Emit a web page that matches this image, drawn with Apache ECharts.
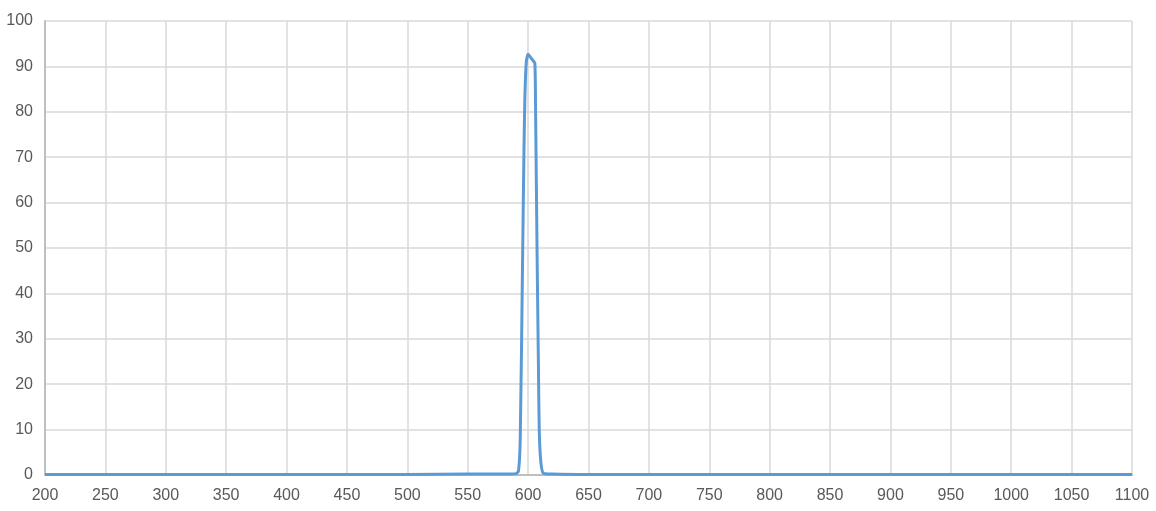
<!DOCTYPE html>
<html>
<head>
<meta charset="utf-8">
<script src="https://cdn.jsdelivr.net/npm/echarts@6/dist/echarts.min.js"></script>
<style>
html,body{margin:0;padding:0;background:#fff;}
#main{width:1156px;height:511px;}
</style>
</head>
<body>
<div id="main"></div>
<script>
// 波长 (nm) 与透过率 (%)
var wavelength = [200, 250, 300, 350, 400, 450, 500, 550, 580, 590, 592, 593.5, 595.4, 596.5, 597.3, 598.5, 600, 602, 604, 605.6, 606.2, 607.5, 608.5, 609.2, 610.5, 612.5, 620, 650, 700, 750, 800, 850, 900, 950, 1000, 1050, 1100];
var transmit   = [0.1, 0.1, 0.1, 0.1, 0.1, 0.1, 0.1, 0.2, 0.2, 0.3, 0.8, 8, 47, 70, 83, 91, 92.7, 92, 91.3, 90.7, 80, 47, 25, 10, 3, 0.4, 0.2, 0.1, 0.1, 0.1, 0.1, 0.1, 0.1, 0.1, 0.1, 0.1, 0.1];
var xTicks = {min: 200, max: 1100, step: 50};
var yTicks = {min: 0, max: 100, step: 10};

var chart = echarts.init(document.getElementById('main'));

var option = {
	animation: false,
	grid: {left: 45, right: 24, top: 21, bottom: 36},
	xAxis: {
		type: 'value',
		min: xTicks.min, max: xTicks.max, interval: xTicks.step,
		axisLine: {show: true, onZero: false, lineStyle: {color: '#bfbfbf', width: 2}},
		axisTick: {show: false},
		axisLabel: {color: '#595959', fontSize: 16, fontFamily: 'Liberation Sans', margin: 13,
			formatter: function(v){ return String(v); }},
		splitLine: {show: true, lineStyle: {color: '#d9d9d9', width: 1.5}}
	},
	yAxis: {
		type: 'value',
		min: yTicks.min, max: yTicks.max, interval: yTicks.step,
		axisLine: {show: true, lineStyle: {color: '#bfbfbf', width: 2}},
		axisTick: {show: false},
		axisLabel: {color: '#595959', fontSize: 16, fontFamily: 'Liberation Sans', margin: 12},
		splitLine: {show: true, lineStyle: {color: '#d9d9d9', width: 1.5}}
	},
	series: [{
		type: 'line',
		showSymbol: false,
		smooth: 0.2,
		lineStyle: {color: '#5b9bd5', width: 3},
		data: wavelength.map(function(w, i){ return [w, transmit[i]]; })
	}]
};
chart.setOption(option);
</script>
</body>
</html>
